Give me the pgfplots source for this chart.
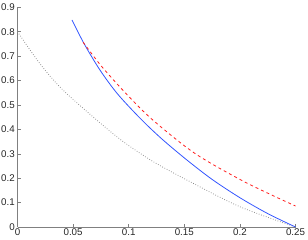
\documentclass[border=0pt]{standalone}
\usepackage{pgfplots}
\pgfplotsset{compat=1.18}
\usepackage{fontspec}
\setmainfont{Liberation Sans}
\definecolor{mblue}{RGB}{51,85,255}
\definecolor{mred}{RGB}{255,30,30}
\definecolor{mgray}{RGB}{140,140,140}
\begin{document}
\begin{tikzpicture}
\begin{axis}[
  at={(0,0)}, anchor=south west,
  scale only axis, width=278bp, height=219.7bp,
  xmin=0, xmax=0.25, ymin=0, ymax=0.9,
  axis x line*=bottom, axis y line*=left,
  axis line style={draw=black!50, line width=0.6pt},
  tick style={draw=black!50, line width=0.5pt},
  major tick length=3bp, tick align=inside,
  xtick={0,0.05,0.1,0.15,0.2,0.25},
  ytick={0,0.1,...,0.9},
  xticklabels={0,0.05,0.1,0.15,0.2,0.25},
  yticklabels={0,0.1,0.2,0.3,0.4,0.5,0.6,0.7,0.8,0.9},
  ticklabel style={font=\fontsize{9.8}{11}\selectfont, text=black!85},
  xticklabel style={yshift=1.5bp},
  yticklabel style={xshift=0.8bp},
  /pgf/number format/assume math mode=true,
  clip=false,
]
\addplot[mgray, dash pattern=on 0.7bp off 1.8bp, line width=0.8pt, smooth] coordinates {
 (0,0.8) (0.02,0.67) (0.04,0.565) (0.07,0.443) (0.095,0.35) (0.122,0.268) (0.155,0.186) (0.2,0.083) (0.25,0)};
\addplot[mblue, line width=0.8pt, smooth] coordinates {
 (0.049,0.848) (0.06,0.75) (0.0743,0.642) (0.09,0.545) (0.111,0.442) (0.13,0.36) (0.1523,0.2746) (0.175,0.195) (0.2,0.12) (0.225,0.055) (0.25,0)};
\addplot[mred, line width=0.8pt, dash pattern=on 3bp off 3bp, smooth] coordinates {
 (0.059,0.757) (0.0758,0.657) (0.1,0.535) (0.1225,0.435) (0.16,0.30) (0.205,0.183) (0.25,0.086)};
\end{axis}
\pgfresetboundingbox
\path (-17.5bp,-13bp) rectangle (290.5bp,227bp);
\end{tikzpicture}
\end{document}
